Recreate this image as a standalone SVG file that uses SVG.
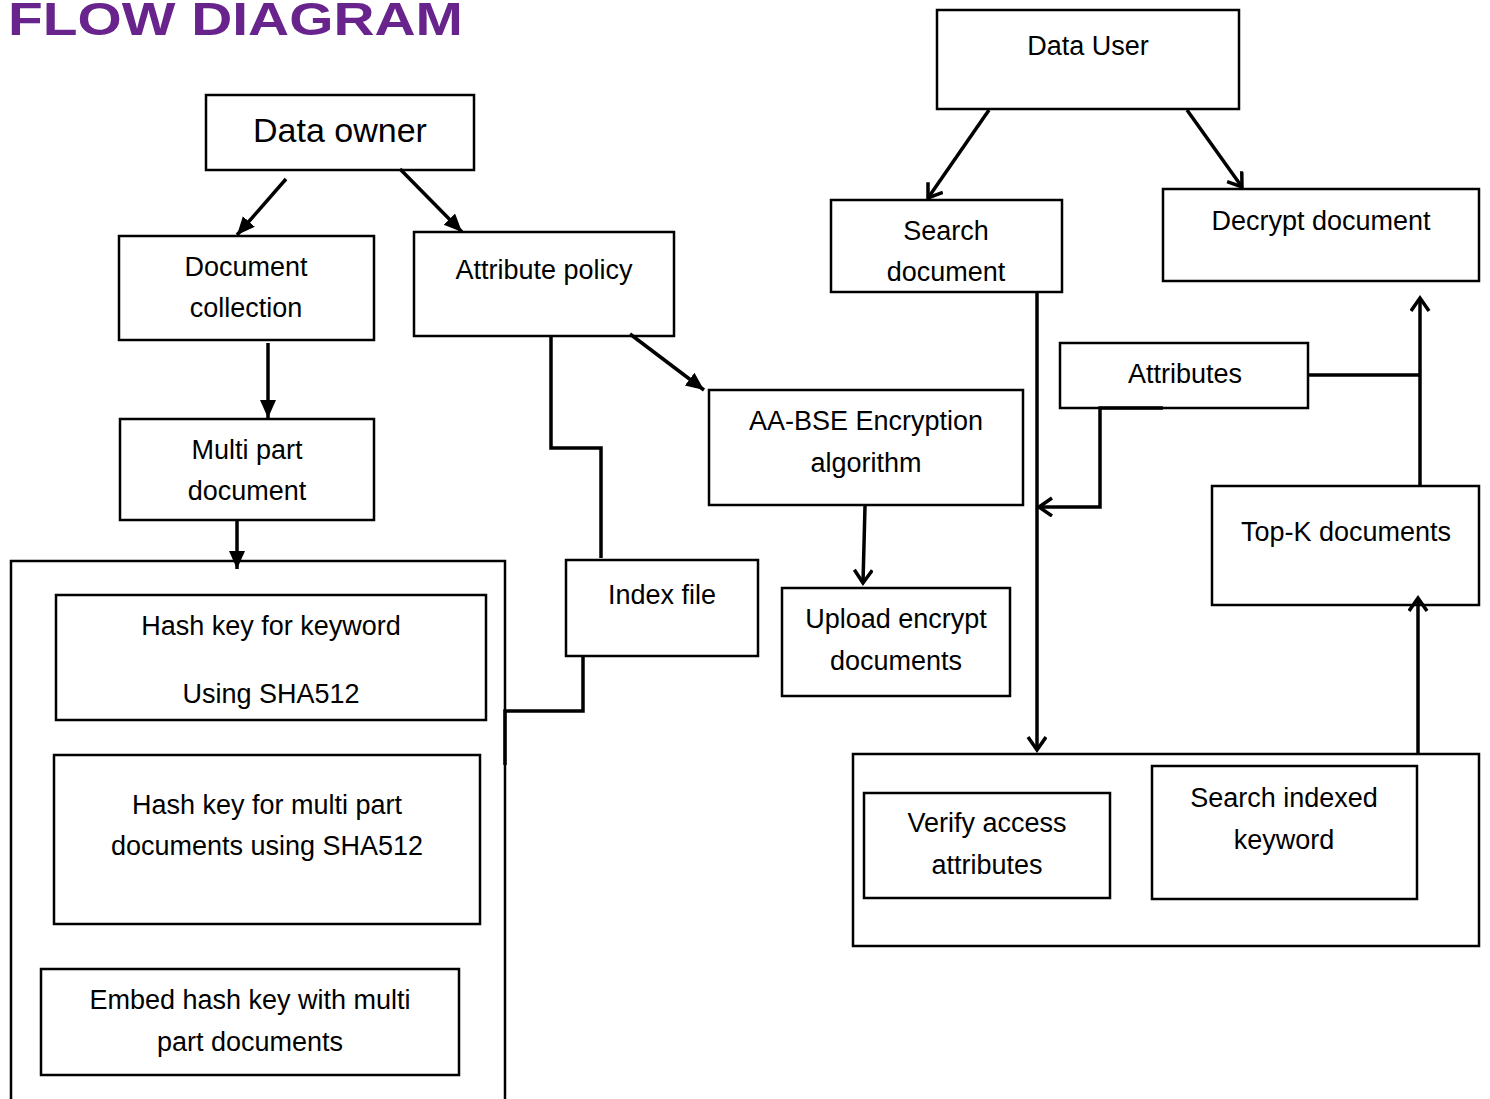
<svg xmlns="http://www.w3.org/2000/svg" width="1490" height="1099" viewBox="0 0 1490 1099">
<style>
.box{fill:#fff;stroke:#000;stroke-width:2.5}
.t{font-family:"Liberation Sans",Arial,sans-serif;font-size:27px;fill:#000;text-anchor:middle}
.big{font-size:34px}
.c{fill:none;stroke:#000;stroke-width:3.5}
.title{font-family:"Liberation Sans",Arial,sans-serif;font-weight:bold;font-size:47px;fill:#68238d}
</style>
<defs>
<marker id="fa" markerUnits="userSpaceOnUse" markerWidth="20" markerHeight="20" refX="18" refY="8" orient="auto">
<path d="M0,0 L18,8 L0,16 z" fill="#000"/>
</marker>
<marker id="oa" markerUnits="userSpaceOnUse" markerWidth="22" markerHeight="22" refX="15" refY="10" orient="auto">
<path d="M2,1 L15,10 L2,19" fill="none" stroke="#000" stroke-width="3.5"/>
</marker>
</defs>
<rect width="1490" height="1099" fill="#fff"/>
<text class="title" x="8" y="35" textLength="455" lengthAdjust="spacingAndGlyphs">FLOW DIAGRAM</text>

<g id="containers">
<path id="left-container" d="M11,1099 V561 H505 V1099" fill="none" stroke="#000" stroke-width="2.5"/>
<rect id="right-container" class="box" x="853" y="754" width="626" height="192"/>
</g>

<g id="data-owner"><rect class="box" x="206" y="95" width="268" height="75"/><text class="t big" x="340" y="142">Data owner</text></g>
<g id="document-collection"><rect class="box" x="119" y="236" width="255" height="104"/><text class="t" x="246" y="276">Document</text><text class="t" x="246" y="317">collection</text></g>
<g id="attribute-policy"><rect class="box" x="414" y="232" width="260" height="104"/><text class="t" x="544" y="279">Attribute policy</text></g>
<g id="multi-part-document"><rect class="box" x="120" y="419" width="254" height="101"/><text class="t" x="247" y="459">Multi part</text><text class="t" x="247" y="500">document</text></g>
<g id="hash-keyword"><rect class="box" x="56" y="595" width="430" height="125"/><text class="t" x="271" y="635">Hash key for keyword</text><text class="t" x="271" y="703">Using SHA512</text></g>
<g id="hash-multipart"><rect class="box" x="54" y="755" width="426" height="169"/><text class="t" x="267" y="814">Hash key for multi part</text><text class="t" x="267" y="855">documents using SHA512</text></g>
<g id="embed-hash"><rect class="box" x="41" y="969" width="418" height="106"/><text class="t" x="250" y="1009">Embed hash key with multi</text><text class="t" x="250" y="1051">part documents</text></g>
<g id="index-file"><rect class="box" x="566" y="560" width="192" height="96"/><text class="t" x="662" y="604">Index file</text></g>
<g id="aa-bse"><rect class="box" x="709" y="390" width="314" height="115"/><text class="t" x="866" y="430">AA-BSE Encryption</text><text class="t" x="866" y="472">algorithm</text></g>
<g id="upload-encrypt"><rect class="box" x="782" y="588" width="228" height="108"/><text class="t" x="896" y="628">Upload encrypt</text><text class="t" x="896" y="670">documents</text></g>
<g id="data-user"><rect class="box" x="937" y="10" width="302" height="99"/><text class="t" x="1088" y="55">Data User</text></g>
<g id="search-document"><rect class="box" x="831" y="200" width="231" height="92"/><text class="t" x="946" y="240">Search</text><text class="t" x="946" y="281">document</text></g>
<g id="decrypt-document"><rect class="box" x="1163" y="189" width="316" height="92"/><text class="t" x="1321" y="230">Decrypt document</text></g>
<g id="attributes"><rect class="box" x="1060" y="343" width="248" height="65"/><text class="t" x="1185" y="383">Attributes</text></g>
<g id="top-k"><rect class="box" x="1212" y="486" width="267" height="119"/><text class="t" x="1346" y="541">Top-K documents</text></g>
<g id="verify-access"><rect class="box" x="864" y="793" width="246" height="105"/><text class="t" x="987" y="832">Verify access</text><text class="t" x="987" y="874">attributes</text></g>
<g id="search-indexed"><rect class="box" x="1152" y="766" width="265" height="133"/><text class="t" x="1284" y="807">Search indexed</text><text class="t" x="1284" y="849">keyword</text></g>

<g id="connectors">
<line class="c" x1="286" y1="179" x2="237" y2="235" marker-end="url(#fa)"/>
<line class="c" x1="400" y1="169" x2="462" y2="232" marker-end="url(#fa)"/>
<line class="c" x1="630" y1="334" x2="704" y2="390" marker-end="url(#fa)"/>
<line class="c" x1="268" y1="343" x2="268" y2="418" marker-end="url(#fa)"/>
<line class="c" x1="237" y1="520" x2="237" y2="569" marker-end="url(#fa)"/>
<polyline class="c" points="551,337 551,448 601,448 601,558"/>
<polyline class="c" points="583,656 583,711 505,711 505,765"/>
<line class="c" x1="989" y1="110" x2="928" y2="198" marker-end="url(#oa)"/>
<line class="c" x1="1187" y1="110" x2="1242" y2="187" marker-end="url(#oa)"/>
<line class="c" x1="1037" y1="292" x2="1037" y2="750" marker-end="url(#oa)"/>
<line class="c" x1="865" y1="506" x2="863" y2="583" marker-end="url(#oa)"/>
<polyline class="c" points="1163,408 1100,408 1100,507 1039,507" marker-end="url(#oa)"/>
<polyline class="c" points="1308,375 1420,375"/>
<line class="c" x1="1420" y1="486" x2="1420" y2="298" marker-end="url(#oa)"/>
<line class="c" x1="1418" y1="754" x2="1418" y2="598" marker-end="url(#oa)"/>
</g>
</svg>
